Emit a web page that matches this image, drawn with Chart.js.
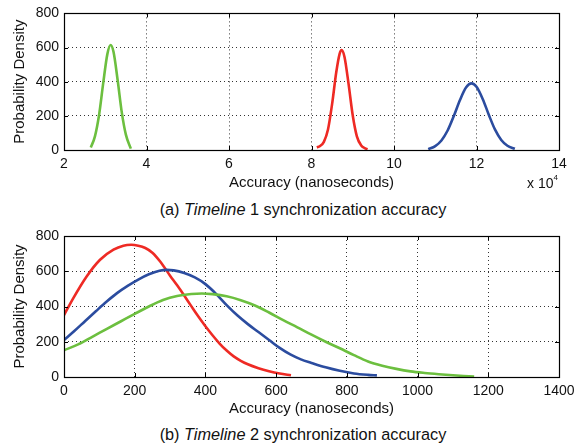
<!DOCTYPE html>
<html>
<head>
<meta charset="utf-8">
<script src="https://cdn.jsdelivr.net/npm/chart.js@4.4.0/dist/chart.umd.min.js"></script>
<style>
  body { margin: 0; background: #fff; font-family: "Liberation Sans", Arial, sans-serif; color: #111; }
  #wrap { position: relative; width: 582px; height: 447px; overflow: hidden; }
  canvas { position: absolute; left: 0; }
  .cap { position: absolute; left: 0; width: 606px; text-align: center; font-size: 16.3px; }
  .exp { position: absolute; left: 527px; top: 175px; font-size: 14px; }
  .exp sup { font-size: 8px; position: relative; top: -2px; }
</style>
</head>
<body>
<div id="wrap">
  <canvas id="c1" width="582" height="196" style="top:0"></canvas>
  <div class="exp">x 10<sup>4</sup></div>
  <div class="cap" style="top:200px">(a) <i>Timeline</i> 1 synchronization accuracy</div>
  <canvas id="c2" width="582" height="200" style="top:222px"></canvas>
  <div class="cap" style="top:425px">(b) <i>Timeline</i> 2 synchronization accuracy</div>
</div>
<script>
// Timeline 1 (x in units of 1e4 ns)
const green1X = [2.65, 2.75, 2.85, 2.95, 3.05, 3.13, 3.2, 3.3, 3.4, 3.5, 3.62];
const green1Y = [15, 80, 205, 390, 560, 615, 575, 410, 222, 90, 8];
const red1X = [8.13, 8.2, 8.3, 8.4, 8.5, 8.6, 8.68, 8.73, 8.8, 8.9, 9.0, 9.1, 9.2, 9.3, 9.36];
const red1Y = [15, 22, 48, 120, 270, 455, 562, 585, 545, 384, 202, 80, 28, 10, 5];
const blue1X = [10.83, 11.0, 11.15, 11.3, 11.45, 11.6, 11.75, 11.88, 12.0, 12.15, 12.3, 12.45, 12.6, 12.75, 12.93];
const blue1Y = [5, 23, 56, 114, 199, 293, 367, 390, 370, 299, 205, 119, 59, 25, 7];

// Timeline 2 (x in ns)
const red2X = [0, 26, 64, 102, 140, 168, 190, 210, 230, 250, 272, 300, 320, 340, 360, 380, 400, 420, 440, 460, 480, 500, 520, 550, 580, 610, 642];
const red2Y = [351, 446, 570, 665, 722, 745, 750, 745, 732, 705, 655, 575, 520, 462, 402, 343, 288, 237, 190, 150, 117, 92, 72, 50, 33, 20, 10];
const blue2X = [0, 30, 60, 90, 120, 150, 180, 210, 240, 270, 290, 310, 340, 370, 400, 430, 460, 490, 520, 550, 580, 610, 640, 670, 700, 740, 780, 820, 860, 885];
const blue2Y = [210, 262, 318, 373, 427, 476, 517, 553, 583, 603, 608, 605, 590, 565, 527, 472, 408, 350, 300, 255, 210, 165, 128, 100, 80, 55, 35, 20, 12, 9];
const green2X = [0, 40, 80, 120, 160, 200, 240, 280, 320, 360, 390, 420, 460, 500, 540, 580, 620, 660, 700, 740, 780, 820, 860, 900, 940, 980, 1020, 1060, 1100, 1130, 1160];
const green2Y = [152, 185, 228, 272, 315, 358, 400, 437, 460, 471, 474, 470, 458, 436, 406, 366, 323, 282, 240, 200, 163, 124, 88, 64, 46, 32, 23, 16, 10, 6, 2];

const xTicks1 = [2, 14, 2];
const xTicks2 = [0, 1400, 200];
const yTicks = [0, 800, 200];

const RED = '#ee2a24', BLUE = '#2b4c9f', GREEN = '#6cbf3f';
const FONT = 'Liberation Sans, Arial, sans-serif';

function pts(xs, ys) {
  return xs.map((x, i) => ({ x: x, y: ys[i] }));
}

function line(xs, ys, color) {
  return {
    data: pts(xs, ys),
    borderColor: color,
    borderWidth: 2.6,
    pointRadius: 0,
    cubicInterpolationMode: 'monotone',
    fill: false,
  };
}

// black box with short ticks pointing inwards
const frame = {
  id: 'frame',
  afterDatasetsDraw(chart) {
    const { ctx, chartArea: a, scales } = chart;
    ctx.save();
    ctx.strokeStyle = '#000';
    ctx.lineWidth = 1;
    ctx.beginPath();
    scales.x.ticks.forEach(t => {
      const px = Math.round(scales.x.getPixelForValue(t.value)) + 0.5;
      ctx.moveTo(px, a.bottom); ctx.lineTo(px, a.bottom - 4);
      ctx.moveTo(px, a.top); ctx.lineTo(px, a.top + 4);
    });
    scales.y.ticks.forEach(t => {
      const py = Math.round(scales.y.getPixelForValue(t.value)) + 0.5;
      ctx.moveTo(a.left, py); ctx.lineTo(a.left + 4, py);
      ctx.moveTo(a.right, py); ctx.lineTo(a.right - 4, py);
    });
    ctx.stroke();
    ctx.lineWidth = 1.2;
    ctx.strokeRect(Math.round(a.left) + 0.5, Math.round(a.top) + 0.5,
      Math.round(a.right - a.left), Math.round(a.bottom - a.top));
    ctx.restore();
  },
};

function makeChart(id, datasets, xt, padTop, xHeight, titleBottom) {
  return new Chart(document.getElementById(id), {
    type: 'line',
    data: { datasets: datasets },
    plugins: [frame],
    options: {
      responsive: false,
      animation: false,
      layout: { padding: { top: padTop, right: 23, left: 0, bottom: 0 } },
      plugins: { legend: { display: false }, tooltip: { enabled: false } },
      scales: {
        x: {
          type: 'linear',
          min: xt[0], max: xt[1],
          afterFit(s) { s.height = xHeight; },
          ticks: { stepSize: xt[2], padding: 6, color: '#111', font: { family: FONT, size: 14 }, maxRotation: 0,
            callback: v => String(v) },
          grid: { color: 'rgba(0,0,0,0.8)', lineWidth: 1, drawTicks: false },
          border: { display: false, dash: [1, 3] },
          title: { display: true, text: 'Accuracy (nanoseconds)', color: '#111',
            font: { family: FONT, size: 15 }, padding: { top: 0, bottom: titleBottom } },
        },
        y: {
          min: yTicks[0], max: yTicks[1],
          afterFit(s) { s.width = 64; },
          ticks: { stepSize: yTicks[2], padding: 5, color: '#111', font: { family: FONT, size: 14 },
            callback: v => String(v) },
          grid: { color: 'rgba(0,0,0,0.8)', lineWidth: 1, drawTicks: false },
          border: { display: false, dash: [1, 3] },
          title: { display: true, text: 'Probability Density', color: '#111',
            font: { family: FONT, size: 15 }, padding: { top: 11, bottom: 0 } },
        },
      },
    },
  });
}

makeChart('c1', [
  line(green1X, green1Y, GREEN),
  line(red1X, red1Y, RED),
  line(blue1X, blue1Y, BLUE),
], xTicks1, 10, 46, 4);

makeChart('c2', [
  line(green2X, green2Y, GREEN),
  line(blue2X, blue2Y, BLUE),
  line(red2X, red2Y, RED),
], xTicks2, 14, 45, 4);
</script>
</body>
</html>
